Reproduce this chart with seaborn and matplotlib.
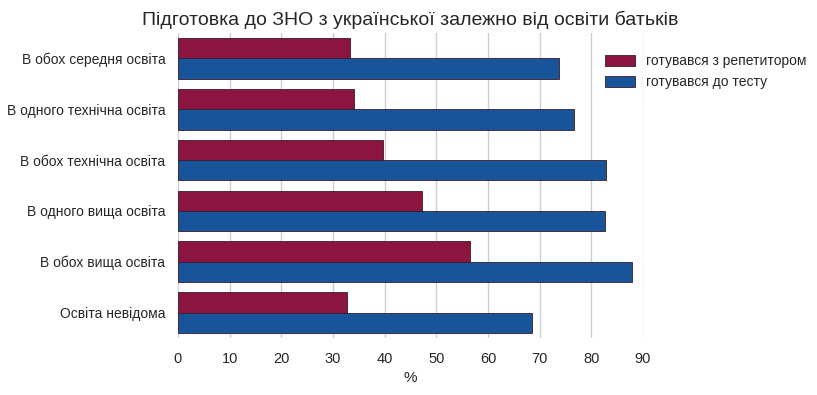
import matplotlib
matplotlib.use("Agg")
import matplotlib.pyplot as plt
import seaborn as sns
import pandas as pd

categories = ["В обох середня освіта", "В одного технічна освіта", "В обох технічна освіта",
              "В одного вища освіта", "В обох вища освіта", "Освіта невідома"]
tutor = [33.3, 34.1, 39.7, 47.2, 56.5, 32.7]
test = [73.7, 76.6, 82.8, 82.6, 87.9, 68.5]
series = ["готувався з репетитором", "готувався до тесту"]

df = pd.DataFrame({
    "cat": categories * 2,
    "val": tutor + test,
    "series": [series[0]] * len(categories) + [series[1]] * len(categories),
})

sns.set_style("whitegrid")
plt.rcParams["font.family"] = ["Liberation Sans", "DejaVu Sans"]

fig = plt.figure(figsize=(8.17, 3.95), dpi=100)
ax = fig.add_axes([178 / 817, 1 - 338 / 395, (643 - 178) / 817, (338 - 33) / 395])
sns.barplot(data=df, x="val", y="cat", hue="series", orient="h",
            palette=["#8b1440", "#175499"], saturation=1, edgecolor="#3a1a2a", linewidth=0.6,
            width=0.8, ax=ax, legend=True)
ax.set_xlim(0, 90)
ax.set_xticks(range(0, 91, 10))
ax.set_xlabel("%", fontsize=11, labelpad=4)
ax.set_ylabel("")
ax.tick_params(axis="y", labelsize=10, length=0, pad=9)
ax.tick_params(axis="x", labelsize=10.5, length=0, pad=10)
ax.grid(axis="y", visible=False)
ax.grid(axis="x", color="#cccccc", linewidth=1)
for s in ax.spines.values():
    s.set_visible(False)
ax.set_title("Підготовка до ЗНО з української залежно від освіти батьків", fontsize=14, pad=6)
leg = ax.legend(loc="upper left", bbox_to_anchor=(592 / 817, 1 - 42 / 395),
                bbox_transform=fig.transFigure, frameon=False, fontsize=10,
                handlelength=2.2, handleheight=0.9)
fig.savefig("out.png", dpi=100)
